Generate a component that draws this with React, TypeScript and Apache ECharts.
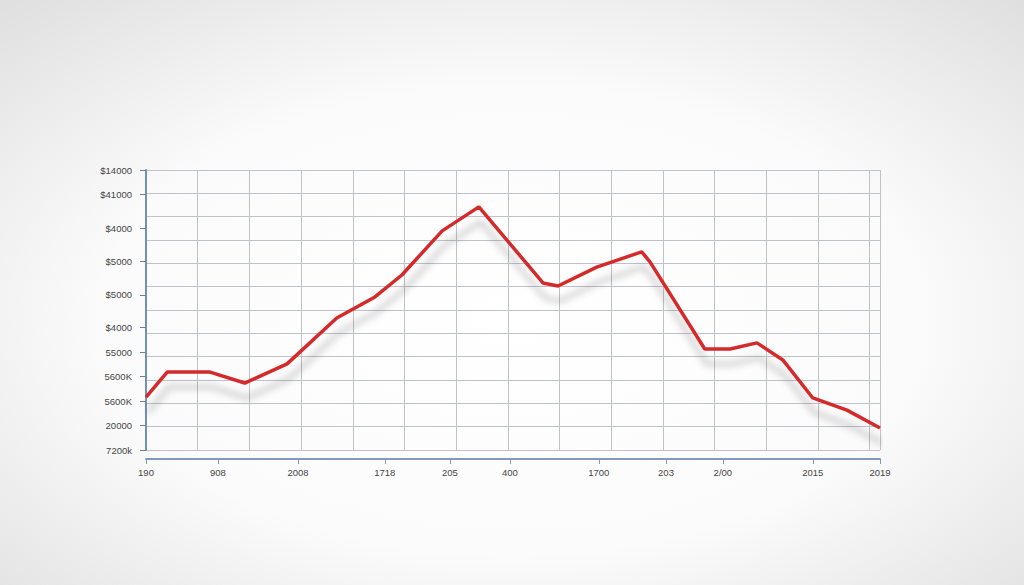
import React, { useEffect, useRef } from "react";
import * as echarts from "echarts";

// Series (x in grid-column units, y in grid-row units)
const xValues = [0, 0.41, 1.24, 1.91, 2.73, 3.69, 4.43, 4.95, 5.73, 6.44, 7.68, 7.97, 8.72, 9.59, 9.75, 10.81, 11.3, 11.82, 12.32, 12.9, 13.56, 14.2];
const yValues = [2.27, 3.34, 3.34, 2.87, 3.69, 5.66, 6.56, 7.5, 9.39, 10.42, 7.16, 7.03, 7.84, 8.49, 8.06, 4.33, 4.33, 4.59, 3.86, 2.23, 1.71, 0.94];

// Tick labels as printed
const xTickLabels = ["190", "908", "2008", "1718", "205", "400", "1700", "203", "2/00", "2015", "2019"];
const xTickPositions = [0, 1.39, 2.94, 4.62, 5.88, 7.04, 8.76, 10.06, 11.16, 12.9, 14.2];

const yTickLabels = ["$14000", "$41000", "$4000", "$5000", "$5000", "$4000", "55000", "5600K", "5600K", "20000", "7200k"];
const yTickPositions = [12, 10.95, 9.5, 8.1, 6.65, 5.25, 4.2, 3.15, 2.1, 1.05, 0];

const X_MIN = 0;
const X_MAX = 14.2;
const Y_MIN = 0;
const Y_MAX = 12;

export default function App() {
  const ref = useRef<HTMLDivElement>(null);
  useEffect(() => {
    if (!ref.current) return;
    const chart = echarts.init(ref.current, null, { renderer: "svg" });
    const lineData = xValues.map((x, i) => [x, yValues[i]]);
    const findLabel = (v: number, pos: number[], labels: string[]) => {
      let best = 0;
      for (let i = 1; i < pos.length; i++) if (Math.abs(pos[i] - v) < Math.abs(pos[best] - v)) best = i;
      return labels[best];
    };
    chart.setOption({
      animation: false,
      backgroundColor: {
        type: "radial",
        x: 0.5,
        y: 0.55,
        r: 0.8,
        colorStops: [
          { offset: 0, color: "#ffffff" },
          { offset: 0.5, color: "#fbfbfb" },
          { offset: 1, color: "#dadada" },
        ],
      },
      grid: { left: 146, right: 144, top: 170, bottom: 135, containLabel: false },
      xAxis: [
        {
          type: "value",
          min: X_MIN,
          max: X_MAX,
          interval: 1,
          axisLine: { show: false },
          axisTick: { show: false },
          axisLabel: { show: false },
          splitLine: { show: true, lineStyle: { color: "#bfc3c9", width: 1 } },
        },
        {
          type: "value",
          min: X_MIN,
          max: X_MAX,
          position: "bottom",
          offset: 9,
          axisLine: { show: true, onZero: false, lineStyle: { color: "#7d9cbd", width: 2 } },
          axisTick: { show: true, length: 5, customValues: xTickPositions, lineStyle: { color: "#7d9cbd", width: 1 } },
          axisLabel: {
            show: true,
            customValues: xTickPositions,
            formatter: (v: number) => findLabel(v, xTickPositions, xTickLabels),
            color: "#454545",
            fontSize: 9.5,
            fontFamily: "Liberation Sans, Arial, sans-serif",
            margin: 8,
          },
          splitLine: { show: false },
        },
      ],
      yAxis: [
        {
          type: "value",
          min: Y_MIN,
          max: Y_MAX,
          interval: 1,
          axisLine: { show: false },
          axisTick: { show: false },
          axisLabel: { show: false },
          splitLine: { show: true, lineStyle: { color: "#bfc3c9", width: 1 } },
        },
        {
          type: "value",
          min: Y_MIN,
          max: Y_MAX,
          position: "left",
          axisLine: { show: true, onZero: false, lineStyle: { color: "#6f93b8", width: 2 } },
          axisTick: { show: true, length: 6, customValues: yTickPositions, lineStyle: { color: "#6f7f90", width: 1 } },
          axisLabel: {
            show: true,
            customValues: yTickPositions,
            formatter: (v: number) => findLabel(v, yTickPositions, yTickLabels),
            color: "#454545",
            fontSize: 9.5,
            fontFamily: "Liberation Sans, Arial, sans-serif",
            margin: 14,
          },
          splitLine: { show: false },
        },
      ],
      series: [
        {
          type: "line",
          xAxisIndex: 0,
          yAxisIndex: 0,
          data: lineData,
          symbol: "none",
          clip: false,
          lineStyle: {
            color: "#d42a2c",
            width: 3.5,
            shadowColor: "rgba(0,0,0,0.24)",
            shadowBlur: 7,
            shadowOffsetX: 2,
            shadowOffsetY: 15,
          },
        },
      ],
    });
    return () => chart.dispose();
  }, []);
  return (
    <div
      ref={ref}
      style={{ position: "absolute", left: 0, top: 0, width: 1024, height: 585 }}
    />
  );
}
